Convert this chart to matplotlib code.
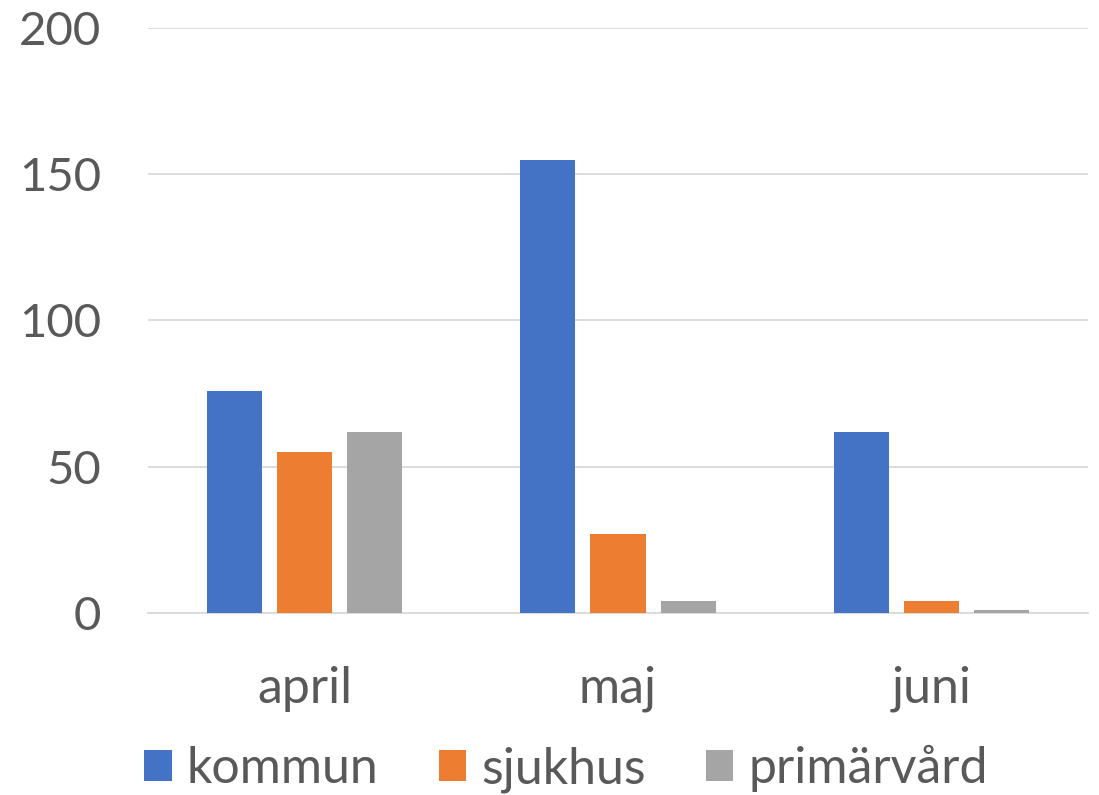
import numpy as np
import matplotlib.pyplot as plt

months = ['april', 'maj', 'juni']
kommun = [76, 155, 62]
sjukhus = [55, 27, 4]
primarvard = [62, 4, 1]

series = [('kommun', kommun, '#4472C4'),
          ('sjukhus', sjukhus, '#ED7D31'),
          ('primärvård', primarvard, '#A5A5A5')]

plt.rcParams['font.family'] = ['Lato', 'DejaVu Sans']
txt = '#595959'

fig = plt.figure(figsize=(10.99, 7.95), dpi=100)
ax = fig.add_axes([0.1347, 0.229, 0.8553, 0.7358])

x = np.arange(len(months))
w = 0.176
step = 0.224
for i, (name, vals, col) in enumerate(series):
    ax.bar(x + (i - 1) * step, vals, width=w, color=col, label=name, zorder=3)

ax.set_xlim(-0.5, 2.5)
ax.set_ylim(0, 200)
ax.set_yticks([0, 50, 100, 150, 200])
ax.yaxis.grid(True, color='#D9D9D9', linewidth=1.3, zorder=0)
ax.set_xticks(x)
ax.set_xticklabels(months)
for s in ['top', 'right', 'left']:
    ax.spines[s].set_visible(False)
ax.spines['bottom'].set_color('#D9D9D9')
ax.spines['bottom'].set_linewidth(1.3)
ax.tick_params(axis='y', length=0, labelsize=34, colors=txt, pad=34)
ax.tick_params(axis='x', length=0, labelsize=36, colors=txt, pad=38)

fig.legend(loc='center', bbox_to_anchor=(0.515, 0.033), ncol=3, frameon=False,
           fontsize=36, labelcolor=txt, handlelength=0.55, handleheight=0.6,
           handletextpad=0.3, columnspacing=1.2)

fig.savefig('out.png', dpi=100)
